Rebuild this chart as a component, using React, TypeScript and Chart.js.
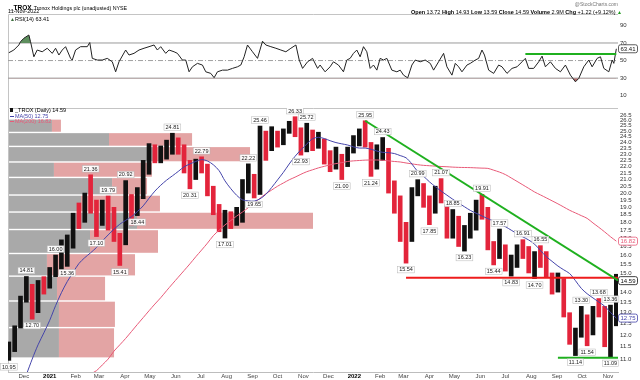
import { useEffect, useRef } from "react";
import { Chart, registerables } from "chart.js";

Chart.register(...registerables);

const FONT = '"Liberation Sans", Arial, Helvetica, sans-serif';

// ---------- text ----------
const symbol = "_TROX";
const companyName = "Tronox Holdings plc (unadjusted) NYSE";
const chartDate = "11-Nov-2022";
const quoteLabels = ["Open", "High", "Low", "Close", "Volume", "Chg"];
const quoteValues = ["13.72", "14.93", "13.59", "14.59", "2.9M", "+1.22 (+9.12%)"];

// ---------- x axis (days since 1-Nov-2020) ----------
const xMinDay = 11;
const xMaxDay = 742;
const firstWeekDay = 12; // week ending Fri 13-Nov-2020
const monthTickDays = [30, 61, 92, 120, 151, 181, 212, 242, 273, 304, 334, 365, 395, 426, 457, 485, 516, 546, 577, 607, 638, 669, 699, 730];
const monthTickLabels = ["Dec", "2021", "Feb", "Mar", "Apr", "May", "Jun", "Jul", "Aug", "Sep", "Oct", "Nov", "Dec", "2022", "Feb", "Mar", "Apr", "May", "Jun", "Jul", "Aug", "Sep", "Oct", "Nov"];

// ---------- weekly price ranges ----------
const weeklyLow = [
  10.95, 11.3, 12.3, 13.5, 12.7, 13.0, 13.9, 14.2, 14.8, 15.2,
  15.36, 16.4, 17.6, 18.0, 18.6, 17.1, 17.8, 17.5, 16.8, 15.41,
  16.6, 17.8, 18.44, 19.6, 21.4, 22.3, 22.3, 22.6, 23.0, 23.0,
  21.5, 20.31, 21.0, 21.5, 19.8, 18.5, 17.4, 17.01, 17.6, 17.8,
  18.0, 20.0, 19.65, 19.9, 22.5, 23.3, 23.6, 23.8, 24.8, 24.5,
  22.93, 23.2, 23.3, 23.5, 22.2, 21.6, 21.8, 21.0, 22.0, 23.1,
  23.7, 23.6, 21.24, 21.8, 22.5, 20.0, 18.6, 16.8, 15.54, 16.8,
  19.8, 19.0, 17.85, 18.6, 19.3, 17.0, 17.0, 16.5, 16.23, 17.0,
  17.5, 18.2, 16.3, 15.44, 15.8, 15.1, 14.83, 15.3, 15.8, 15.0,
  14.7, 15.3, 14.8, 13.9, 14.0, 12.8, 11.6, 11.14, 11.9, 11.54,
  12.0, 12.8, 11.5, 11.09, 12.4,
];
const weeklyHigh = [
  11.7, 12.4, 13.8, 14.81, 14.4, 14.6, 14.8, 15.3, 16.0, 16.9,
  17.2, 18.6, 19.3, 20.0, 21.36, 19.5, 19.5, 19.79, 19.0, 17.3,
  20.92, 19.9, 20.4, 22.5, 23.9, 23.8, 23.7, 24.2, 24.81, 24.4,
  23.8, 22.5, 22.6, 22.79, 22.2, 20.5, 19.2, 18.8, 18.7, 19.0,
  21.0, 22.22, 21.4, 25.46, 25.0, 25.4, 25.0, 25.2, 25.9, 26.33,
  25.3, 25.72, 25.1, 24.9, 24.3, 23.3, 23.6, 23.0, 23.6, 24.6,
  25.2, 25.95, 24.0, 23.8, 24.43, 23.5, 20.9, 19.8, 18.0, 20.4,
  20.99, 20.7, 19.8, 20.5, 21.07, 19.2, 18.85, 18.4, 17.8, 18.6,
  19.5, 19.91, 19.0, 16.8, 17.57, 16.6, 16.0, 16.6, 16.91, 16.5,
  16.2, 16.55, 16.2, 15.0, 15.0, 14.7, 13.0, 12.3, 13.3, 12.9,
  13.3, 13.68, 13.3, 13.36, 14.93,
];
const weeklyClose = [
  11.5, 12.2, 13.6, 14.2, 13.0, 14.3, 14.2, 15.1, 15.4, 16.2,
  16.9, 18.2, 18.0, 19.6, 19.2, 18.2, 19.2, 18.4, 17.5, 16.6,
  19.8, 18.8, 20.0, 22.2, 23.2, 22.8, 23.4, 23.9, 24.0, 23.4,
  21.9, 21.4, 22.3, 21.8, 20.2, 18.9, 17.9, 18.3, 18.0, 18.7,
  20.6, 21.0, 20.4, 24.6, 23.4, 24.8, 24.2, 24.9, 25.6, 25.2,
  23.6, 24.6, 23.8, 24.2, 22.6, 22.0, 23.2, 22.0, 23.3, 24.2,
  24.8, 24.0, 22.4, 23.2, 23.6, 20.5, 19.4, 17.2, 16.9, 20.1,
  20.3, 19.6, 18.9, 20.2, 19.6, 17.6, 18.2, 17.0, 17.4, 18.2,
  19.0, 18.9, 16.6, 15.8, 16.4, 15.4, 15.7, 16.2, 16.0, 15.3,
  16.0, 15.6, 15.0, 14.1, 14.8, 13.0, 11.8, 12.0, 12.4, 12.3,
  13.1, 12.9, 11.6, 12.6, 14.59,
];

// ---------- moving averages ----------
const ma50FirstWeek = 3;
const ma50 = [
  10.4, 11.0, 11.58, 12.09, 12.65, 13.33, 13.97, 14.54, 15.03, 15.52,
  15.85, 16.13, 16.44, 16.83, 17.2, 17.56, 17.88, 18.13, 18.37, 18.71,
  19.1, 19.63, 20.14, 20.57, 20.95, 21.28, 21.62, 21.98, 22.21, 22.41,
  22.56, 22.45, 22.15, 21.68, 20.9, 20.32, 19.84, 19.52, 19.45, 19.43,
  19.59, 19.91, 20.41, 20.97, 21.55, 22.21, 22.83, 23.37, 23.86, 24.32,
  24.45, 24.34, 24.15, 23.99, 23.88, 23.78, 23.62, 23.52, 23.52, 23.42,
  23.27, 23.16, 23.13, 23.06, 22.89, 22.71, 22.21, 21.61, 21.25, 20.83,
  20.47, 20.15, 19.85, 19.56, 19.29, 19.04, 18.79, 18.6, 18.42, 18.24,
  18.08, 17.9, 17.72, 17.5, 17.28, 17.08, 16.89, 16.64, 16.27, 15.91,
  15.64, 15.38, 15.17, 14.97, 14.59, 14.19, 13.92, 13.71, 13.51, 13.31,
  13.01, 12.75,
];
const ma200FirstWeek = 14;
const ma200 = [
  10.43, 10.55, 10.77, 11.0, 11.32, 11.58, 11.85, 12.15, 12.46, 12.77,
  13.09, 13.41, 13.72, 14.07, 14.42, 14.77, 15.13, 15.5, 15.9, 16.29,
  16.7, 17.15, 17.5, 17.83, 18.12, 18.41, 18.68, 18.98, 19.3, 19.63,
  19.95, 20.22, 20.5, 20.74, 20.98, 21.18, 21.4, 21.6, 21.75, 21.9,
  22.02, 22.14, 22.24, 22.32, 22.41, 22.46, 22.49, 22.52, 22.53, 22.53,
  22.51, 22.46, 22.41, 22.37, 22.29, 22.22, 22.15, 22.1, 22.07, 22.04,
  22.01, 21.99, 21.96, 21.94, 21.93, 21.92, 21.9, 21.88, 21.86, 21.72,
  21.57, 21.38, 21.12, 20.86, 20.6, 20.34, 20.08, 19.87, 19.66, 19.45,
  19.24, 19.02, 18.8, 18.62, 18.44, 18.26, 17.96, 17.68, 17.39, 17.09,
  16.82,
];

// ---------- labelled highs / lows (week indices) ----------
const highLabelWeeks = [3, 8, 14, 17, 20, 28, 33, 41, 43, 49, 51, 61, 64, 70, 74, 76, 81, 84, 88, 91, 98, 101, 103];
const lowLabelWeeks = [0, 4, 10, 15, 19, 22, 31, 37, 42, 50, 57, 62, 68, 72, 78, 83, 86, 90, 97, 99, 103];

// ---------- trend lines ----------
const resistDays = [439, 742];
const resistPrices = [25.95, 14.6];
const supportDays = [488, 742];
const supportPrices = [14.75, 14.75];
const floorDays = [670, 742];
const floorPrices = [11.05, 11.05];

// ---------- volume by price (millions) ----------
const vbpEdges = [11.04, 12.32, 13.56, 14.83, 16.09, 17.54, 18.68, 19.86, 21.16, 22.37, 23.66, 24.88, 26.12];
const vbpUpVol = [28.4, 28.4, 27.3, 21.7, 45.7, 71.9, 40.7, 58.0, 25.6, 80.8, 56.3, 24.5];
const vbpDownVol = [30.7, 31.2, 26.8, 49.1, 37.9, 98.1, 44.0, 19.5, 54.6, 54.1, 46.3, 5.0];
const vbpMaxVol = 340;

// ---------- RSI(14) ----------
const rsiDays = [
  12, 18, 24, 26, 30, 36, 38, 42, 46, 52,
  58, 64, 68, 72, 76, 80, 86, 88, 92, 98,
  106, 109, 112, 118, 124, 130, 136, 140, 144, 152,
  156, 162, 168, 174, 180, 186, 190, 194, 200, 204,
  210, 214, 220, 224, 228, 232, 238, 244, 248, 254,
  258, 262, 268, 274, 280, 286, 290, 294, 298, 304,
  310, 316, 320, 326, 332, 338, 344, 350, 356, 360,
  364, 370, 376, 382, 385, 391, 397, 401, 407, 413,
  417, 421, 425, 429, 433, 437, 441, 445, 449, 453,
  457, 461, 465, 471, 477, 481, 485, 490, 495, 499,
  505, 511, 517, 521, 527, 533, 537, 543, 547, 551,
  555, 561, 565, 571, 575, 579, 582, 587, 593, 599,
  603, 609, 615, 621, 627, 631, 635, 641, 647, 651,
  655, 661, 667, 673, 679, 685, 691, 695, 701, 707,
  711, 717, 721, 725, 731, 735, 737, 740,
];
const rsiValues = [
  58.9, 62, 67.7, 71.5, 75.4, 79.1, 71.5, 54.3, 62, 60,
  64, 58.2, 64, 56.3, 62, 65.8, 52.5, 50.6, 62, 65.8,
  65.8, 70.5, 52.5, 50.6, 50.6, 52.5, 48.6, 37.2, 48.6, 62,
  56.3, 58.2, 62, 64, 65.8, 67.7, 62, 65.8, 58.2, 62,
  60, 58.2, 50.6, 50.6, 37.2, 42.9, 46.8, 44.9, 37.2, 35.4,
  30.5, 37.2, 39.1, 39.1, 41.1, 42.9, 44.9, 54.3, 67.7, 60,
  52.5, 72, 67.7, 65.8, 64, 62, 60, 64, 67.7, 50.6,
  41.1, 48.6, 52.5, 41.1, 44.9, 37.2, 42.9, 48.6, 44.9, 37.2,
  50.6, 52.5, 58.2, 62, 54.3, 65.8, 60, 41.1, 44.9, 39.1,
  52.5, 50.6, 52.5, 39.1, 37.2, 39.1, 33.4, 30.3, 44.9, 50.6,
  48.6, 50.6, 46.8, 39.1, 48.6, 58.2, 42.9, 33.4, 46.8, 42.9,
  37.2, 44.9, 46.8, 50.6, 52.5, 62, 56.3, 39.1, 35.4, 44.9,
  42.9, 35.4, 41.1, 42.9, 48.6, 52.5, 41.1, 41.1, 48.6, 55.1,
  42.9, 48.6, 41.1, 37.2, 44.9, 33.4, 25.8, 29.7, 42.9, 50.6,
  42.9, 52.5, 54.3, 41.1, 37.2, 50.6, 46.8, 63.41,
];
const rsiLevelLines = [70, 50, 30];
const rsiTrendDays = [631, 740];
const rsiTrendValues = [57.5, 57.5];
const rsiTicks = [10, 30, 50, 70, 90];
const priceTicks = [
  11.0, 11.5, 12.0, 12.5, 13.0, 13.5, 14.0, 14.5, 15.0, 15.5, 16.0, 16.5, 17.0, 17.5, 18.0, 18.5,
  19.0, 19.5, 20.0, 20.5, 21.0, 21.5, 22.0, 22.5, 23.0, 23.5, 24.0, 24.5, 25.0, 25.5, 26.0, 26.5,
];

// ---------- colours ----------
const UP = "#111111";
const DOWN = "#e3243b";
const MA50C = "#4444aa";
const MA200C = "#e85a78";
const GREEN = "#1fb01f";
const RED = "#ee1c1c";
const VBP_UP = "#a9a9a9";
const VBP_DOWN = "#e3a4a4";

const weekDay = (k: number) => firstWeekDay + 7 * k;
const isYear = (i: number) => /^\d{4}$/.test(monthTickLabels[i] || "");

const framePlugin = {
  id: "panelFrame",
  beforeDatasetsDraw(chart: any) {
    const { ctx, chartArea: a } = chart;
    ctx.save();
    ctx.strokeStyle = "#c4c4c4";
    ctx.lineWidth = 1;
    ctx.beginPath();
    ctx.moveTo(a.left + 0.5, a.bottom);
    ctx.lineTo(a.left + 0.5, a.top + 0.5);
    ctx.lineTo(a.right, a.top + 0.5);
    ctx.stroke();
    ctx.restore();
  },
};

// volume-by-price bars, positioned with the chart's own y (price) and xVol (volume) scales
const volumeByPricePlugin = {
  id: "volumeByPrice",
  beforeDatasetsDraw(chart: any) {
    const { ctx, chartArea: a } = chart;
    const ys = chart.scales.y;
    const xv = chart.scales.xVol;
    const vx = (v: number) =>
      xv && xv.width > 0 ? xv.getPixelForValue(v) : a.left + (v / vbpMaxVol) * (a.right - a.left);
    ctx.save();
    ctx.beginPath();
    ctx.rect(a.left, a.top, a.right - a.left, a.bottom - a.top);
    ctx.clip();
    vbpUpVol.forEach((up, i) => {
      const top = ys.getPixelForValue(vbpEdges[i + 1]) + 0.7;
      const bot = ys.getPixelForValue(vbpEdges[i]) - 0.7;
      const x0 = vx(0);
      const x1 = vx(up);
      const x2 = vx(up + vbpDownVol[i]);
      ctx.fillStyle = VBP_UP;
      ctx.fillRect(x0, top, x1 - x0, bot - top);
      ctx.fillStyle = VBP_DOWN;
      ctx.fillRect(x1, top, x2 - x1, bot - top);
    });
    ctx.restore();
  },
};

function drawValueBox(ctx: any, x: number, cy: number, text: string, border: string, fill: string, color: string) {
  ctx.save();
  ctx.font = `6px ${FONT}`;
  const w = 19;
  const h = 8;
  ctx.fillStyle = fill;
  ctx.strokeStyle = border;
  ctx.lineWidth = 0.8;
  ctx.beginPath();
  if (ctx.roundRect) ctx.roundRect(x + 0.5, cy - h / 2, w, h, 2);
  else ctx.rect(x + 0.5, cy - h / 2, w, h);
  ctx.fill();
  ctx.stroke();
  ctx.fillStyle = color;
  ctx.textAlign = "center";
  ctx.textBaseline = "middle";
  ctx.fillText(text, x + 0.5 + w / 2, cy + 0.4);
  ctx.restore();
}

const priceLabelsPlugin = {
  id: "priceLabels",
  afterDatasetsDraw(chart: any) {
    const { ctx } = chart;
    const xs = chart.scales.x;
    const ys = chart.scales.y;
    ctx.save();
    ctx.font = `5.5px ${FONT}`;
    ctx.textAlign = "center";
    ctx.textBaseline = "middle";
    const draw = (k: number, v: number, above: boolean) => {
      const px = xs.getPixelForValue(weekDay(k));
      const py = ys.getPixelForValue(v);
      const t = v.toFixed(2);
      const w = ctx.measureText(t).width + 3;
      const h = 6.5;
      const cy = above ? py - 6 : py + 6.5;
      ctx.fillStyle = "rgba(255,255,255,0.95)";
      ctx.fillRect(px - w / 2, cy - h / 2, w, h);
      ctx.strokeStyle = "#b5b5b5";
      ctx.lineWidth = 0.5;
      ctx.strokeRect(px - w / 2, cy - h / 2, w, h);
      ctx.fillStyle = "#222";
      ctx.fillText(t, px, cy + 0.3);
    };
    highLabelWeeks.forEach((k) => draw(k, weeklyHigh[k], true));
    lowLabelWeeks.forEach((k) => draw(k, weeklyLow[k], false));
    ctx.restore();
  },
  afterDraw(chart: any) {
    const { ctx, chartArea } = chart;
    const ys = chart.scales.y;
    const x = chartArea.right;
    const lastMa200 = ma200[ma200.length - 1];
    const lastClose = weeklyClose[weeklyClose.length - 1];
    const lastMa50 = ma50[ma50.length - 1];
    drawValueBox(ctx, x, ys.getPixelForValue(lastMa200), lastMa200.toFixed(2), MA200C, "#fff", MA200C);
    drawValueBox(ctx, x, ys.getPixelForValue(lastClose), lastClose.toFixed(2), "#111", "#fff", "#111");
    drawValueBox(ctx, x, ys.getPixelForValue(lastMa50), lastMa50.toFixed(2), MA50C, "#fff", MA50C);
  },
};

const rsiBoxPlugin = {
  id: "rsiBox",
  afterDraw(chart: any) {
    const { ctx, chartArea } = chart;
    const v = rsiValues[rsiValues.length - 1];
    drawValueBox(ctx, chartArea.right, chart.scales.y.getPixelForValue(v), v.toFixed(2), "#333", "#fff", "#111");
  },
};

const tickFont = { family: FONT, size: 6 };

export default function App() {
  const rsiRef = useRef<HTMLCanvasElement>(null);
  const priceRef = useRef<HTMLCanvasElement>(null);

  useEffect(() => {
    const rsiPoints = rsiDays.map((d, i) => ({ x: d, y: rsiValues[i] }));
    const levelSets = rsiLevelLines.map((lv) => ({
      type: "line",
      data: [{ x: xMinDay, y: lv }, { x: xMaxDay, y: lv }],
      borderColor: lv === 50 ? "#a0a0a0" : "#9a9a9a",
      borderWidth: 1,
      borderDash: lv === 50 ? [5, 2, 1, 2] : [],
      pointRadius: 0,
      order: 9,
    }));

    const rsiChart = new Chart(rsiRef.current as HTMLCanvasElement, {
      type: "line",
      data: {
        datasets: [
          {
            data: rsiPoints,
            borderColor: "#222",
            borderWidth: 1,
            pointRadius: 0,
            fill: { target: { value: 70 }, above: "#5e8f5e", below: "rgba(0,0,0,0)" },
            order: 2,
          },
          {
            data: rsiPoints,
            borderColor: "rgba(0,0,0,0)",
            borderWidth: 0,
            pointRadius: 0,
            fill: { target: { value: 30 }, above: "rgba(0,0,0,0)", below: "#b06a6a" },
            order: 3,
          },
          ...levelSets,
          {
            data: rsiTrendDays.map((d, i) => ({ x: d, y: rsiTrendValues[i] })),
            borderColor: GREEN,
            borderWidth: 2,
            pointRadius: 0,
            order: 1,
          },
        ] as any,
      },
      options: {
        animation: false,
        responsive: false,
        layout: { padding: { left: 8, top: 14, right: 0, bottom: 0 } },
        plugins: { legend: { display: false }, tooltip: { enabled: false } },
        scales: {
          x: { type: "linear", min: xMinDay, max: xMaxDay, display: false, offset: false },
          y: {
            type: "linear",
            position: "right",
            min: -4,
            max: 103,
            bounds: "data",
            afterBuildTicks: (a: any) => {
              a.ticks = rsiTicks.map((v) => ({ value: v }));
            },
            afterFit: (a: any) => {
              a.width = 22;
              a.paddingTop = 0;
              a.paddingBottom = 0;
            },
            grid: { display: false, drawTicks: false },
            border: { display: false },
            ticks: { font: tickFont, color: "#333", padding: 2 },
          },
        },
      } as any,
      plugins: [framePlugin, rsiBoxPlugin],
    });

    const barColors = weeklyClose.map((c, k) => (c >= (k > 0 ? weeklyClose[k - 1] : weeklyLow[0]) ? UP : DOWN));

    const priceChart = new Chart(priceRef.current as HTMLCanvasElement, {
      type: "bar",
      data: {
        datasets: [
          {
            type: "bar",
            xAxisID: "x",
            yAxisID: "y",
            data: weeklyLow.map((lo, k) => ({ x: weekDay(k), y: [lo, weeklyHigh[k]] })),
            backgroundColor: barColors,
            barThickness: 4,
            grouped: false,
            order: 10,
          },
          {
            type: "line",
            xAxisID: "x",
            yAxisID: "y",
            data: ma200.map((v, i) => ({ x: weekDay(ma200FirstWeek + i), y: v })),
            borderColor: MA200C,
            borderWidth: 1,
            pointRadius: 0,
            tension: 0.3,
            order: 6,
          },
          {
            type: "line",
            xAxisID: "x",
            yAxisID: "y",
            data: ma50.map((v, i) => ({ x: weekDay(ma50FirstWeek + i), y: v })),
            borderColor: MA50C,
            borderWidth: 1,
            pointRadius: 0,
            tension: 0.3,
            order: 5,
          },
          {
            type: "line",
            data: resistDays.map((d, i) => ({ x: d, y: resistPrices[i] })),
            borderColor: GREEN,
            borderWidth: 2,
            pointRadius: 0,
            order: 1,
          },
          {
            type: "line",
            data: supportDays.map((d, i) => ({ x: d, y: supportPrices[i] })),
            borderColor: RED,
            borderWidth: 2,
            pointRadius: 0,
            order: 1,
          },
          {
            type: "line",
            data: floorDays.map((d, i) => ({ x: d, y: floorPrices[i] })),
            borderColor: GREEN,
            borderWidth: 2,
            pointRadius: 0,
            order: 1,
          },
        ] as any,
      },
      options: {
        animation: false,
        responsive: false,
        layout: { padding: { left: 8, top: 0, right: 0, bottom: 0 } },
        plugins: { legend: { display: false }, tooltip: { enabled: false } },
        scales: {
          x: {
            type: "linear",
            position: "bottom",
            min: xMinDay,
            max: xMaxDay,
            bounds: "data",
            offset: false,
            afterBuildTicks: (a: any) => {
              a.ticks = monthTickDays.map((v) => ({ value: v }));
            },
            afterFit: (a: any) => {
              a.height = 8;
              a.paddingLeft = 0;
              a.paddingRight = 0;
            },
            grid: { display: false, drawTicks: false, offset: false },
            border: { display: true, color: "#bdbdbd" },
            ticks: {
              autoSkip: false,
              maxRotation: 0,
              padding: 1,
              callback: (_v: any, i: number) => monthTickLabels[i],
              font: (c: any) => ({ family: FONT, size: 6, weight: isYear(c.index) ? "bold" : "normal" }),
              color: (c: any) => (isYear(c.index) ? "#000" : "#444"),
            },
          },
          xVol: {
            type: "linear",
            position: "top",
            display: false,
            min: 0,
            max: vbpMaxVol,
            offset: false,
          },
          y: {
            type: "logarithmic",
            position: "right",
            min: 10.5,
            max: 27.17,
            bounds: "data",
            offset: false,
            afterBuildTicks: (a: any) => {
              a.ticks = priceTicks.map((v) => ({ value: v }));
            },
            afterFit: (a: any) => {
              a.width = 22;
              a.paddingTop = 0;
              a.paddingBottom = 0;
            },
            grid: { display: false, drawTicks: false, offset: false },
            border: { display: false },
            ticks: {
              font: tickFont,
              color: "#333",
              padding: 2,
              autoSkip: false,
              callback: (v: any) => Number(v).toFixed(1),
            },
          },
        },
      } as any,
      plugins: [volumeByPricePlugin, framePlugin, priceLabelsPlugin],
    });

    return () => {
      rsiChart.destroy();
      priceChart.destroy();
    };
  }, []);

  const small: any = { position: "absolute", whiteSpace: "nowrap" };
  const lastClose = weeklyClose[weeklyClose.length - 1];

  return (
    <div
      style={{
        position: "absolute",
        left: 0,
        top: 0,
        width: 640,
        height: 380,
        background: "#fff",
        overflow: "hidden",
        fontFamily: FONT,
        color: "#000",
      }}
    >
      <canvas ref={rsiRef} width={640} height={108} style={{ position: "absolute", left: 0, top: 0 }} />
      <canvas ref={priceRef} width={640} height={272} style={{ position: "absolute", left: 0, top: 108 }} />

      <div style={{ ...small, left: 10, top: 1, height: 8, lineHeight: "8px" }}>
        <span style={{ fontSize: 6.5, fontWeight: "bold" }}>{symbol}</span>
        <span style={{ fontSize: 5.3, marginLeft: 2 }}>{companyName}</span>
      </div>
      <div style={{ ...small, left: 8, top: 8, fontSize: 5.5, lineHeight: "6px" }}>{chartDate}</div>
      <div style={{ ...small, right: 22, top: 1, fontSize: 5, lineHeight: "6px", color: "#777" }}>@StockCharts.com</div>
      <div style={{ ...small, right: 18, top: 8.5, fontSize: 5.5, lineHeight: "6px" }}>
        {quoteLabels.map((l, i) => (
          <span key={l}>
            <b>{l}</b> {quoteValues[i]}{" "}
          </span>
        ))}
        <span style={{ color: "#1a9a1a", fontSize: 5 }}>▲</span>
      </div>

      <div style={{ ...small, left: 10, top: 15.5, fontSize: 5.5, lineHeight: "6px" }}>
        <span style={{ color: "#3c6e3c", fontSize: 5 }}>▲</span>RSI(14) {rsiValues[rsiValues.length - 1].toFixed(2)}
      </div>

      <div style={{ ...small, left: 10, top: 108, fontSize: 5.5, lineHeight: "5.6px" }}>
        <div>
          <span style={{ display: "inline-block", width: 3, height: 4, background: "#111", marginRight: 2 }} />
          {symbol} (Daily) {lastClose.toFixed(2)}
        </div>
        <div style={{ color: MA50C }}>
          <span style={{ display: "inline-block", width: 4, height: 1, background: MA50C, marginRight: 1, verticalAlign: "middle" }} />
          MA(50) {ma50[ma50.length - 1].toFixed(2)}
        </div>
        <div style={{ color: MA200C }}>
          <span style={{ display: "inline-block", width: 4, height: 1, background: MA200C, marginRight: 1, verticalAlign: "middle" }} />
          MA(200) {ma200[ma200.length - 1].toFixed(2)}
        </div>
      </div>
    </div>
  );
}
